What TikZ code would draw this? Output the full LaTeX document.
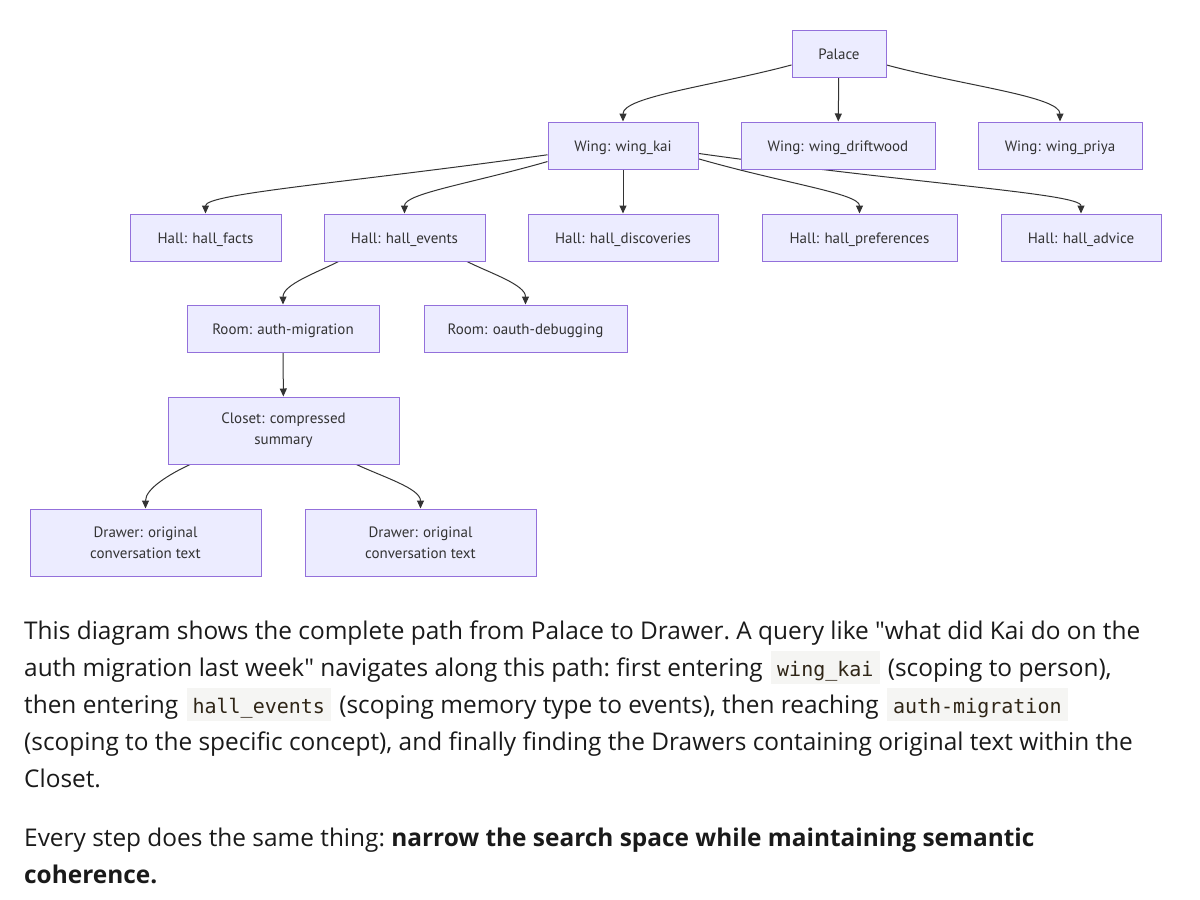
\documentclass[tikz,border=0pt]{standalone}
\usepackage{fontspec}
\setmainfont{Open Sans}[Ligatures=TeXOff]
\setmonofont{DejaVu Sans Mono}
\newfontfamily\boxfont{PT Sans}
\usetikzlibrary{arrows.meta,backgrounds}

\definecolor{boxfill}{HTML}{ECECFF}
\definecolor{boxline}{HTML}{9370DB}
\definecolor{linkcol}{HTML}{333333}
\definecolor{codebg}{HTML}{F5F5F3}
\definecolor{codefg}{HTML}{2F2516}
\definecolor{bodytext}{HTML}{1A1A1A}

% inline code chunk of the text below the diagram
\newcommand{\code}[1]{\hspace{2pt}{\setlength{\fboxsep}{0pt}\colorbox{codebg}{\hspace{6pt}\ttfamily\fontsize{20}{26}\selectfont\color{codefg}\rule[-7pt]{0pt}{33pt}#1\hspace{6pt}}}\hspace{2pt}}

\tikzset{
  boxbase/.style={draw=boxline, fill=boxfill, line width=1pt,
    inner sep=2pt, align=center, text=linkcol,
    font=\boxfont\fontsize{15}{21}\selectfont},
  box/.style={boxbase, minimum height=47pt, text height=13pt, text depth=2pt},
  tallbox/.style={boxbase, minimum height=67pt},
  link/.style={draw=linkcol, line width=1pt, -{Triangle[length=8pt,width=7pt]}},
}

\begin{document}
\begin{tikzpicture}[x=1pt, y=1pt]
    \useasboundingbox (0,0) rectangle (1200,-900);

    % palace and wings
    \node[box, minimum width=94pt] (palace) at (839,-54) {Palace};
    \node[box, minimum width=150pt] (kai) at (623,-145.5) {Wing: wing\_kai};
    \node[box, minimum width=194pt] (drift) at (838,-145.5) {Wing: wing\_driftwood};
    \node[box, minimum width=164pt] (priya) at (1060,-145.5) {Wing: wing\_priya};

    % halls
    \node[box, minimum width=151pt] (facts) at (205.5,-237.5) {Hall: hall\_facts};
    \node[box, minimum width=161pt] (events) at (404.5,-237.5) {Hall: hall\_events};
    \node[box, minimum width=190pt] (disc) at (623,-237.5) {Hall: hall\_discoveries};
    \node[box, minimum width=195pt] (pref) at (859.5,-237.5) {Hall: hall\_preferences};
    \node[box, minimum width=160pt] (advice) at (1081,-237.5) {Hall: hall\_advice};

    % rooms, closet, drawers
    \node[box, minimum width=192pt] (authm) at (283,-328.5) {Room: auth-migration};
    \node[box, minimum width=203pt] (oauth) at (525.5,-328.5) {Room: oauth-debugging};
    \node[tallbox, minimum width=231pt] (closet) at (283.5,-430.5) {Closet: compressed\\summary};
    \node[tallbox, minimum width=231pt] (drawerA) at (145.5,-542.5) {Drawer: original\\conversation text};
    \node[tallbox, minimum width=231pt] (drawerB) at (420.5,-542.5) {Drawer: original\\conversation text};

    \begin{scope}[on background layer]
    \fill[white] (0,0) rectangle (1200,-900);
    \draw[link] (palace.193) to[out=195, in=90, out distance=80pt, in distance=25pt] (kai.north);
    \draw[link] (palace) -- (drift);
    \draw[link] (palace.347) to[out=345, in=90, out distance=80pt, in distance=25pt] (priya.north);
    \draw[link] (kai.187) to[out=188, in=90, out distance=200pt, in distance=20pt] (facts.north);
    \draw[link] (kai.192) to[out=196, in=90, out distance=80pt, in distance=20pt] (events.north);
    \draw[link] (kai) -- (disc);
    \draw[link] (kai.350) to[out=344, in=90, out distance=90pt, in distance=20pt] (pref.north);
    \draw[link] (kai.354) to[out=352, in=90, out distance=220pt, in distance=20pt] (advice.north);
    \draw[link] (events.200) to[out=207, in=90, out distance=25pt, in distance=20pt] (authm.north);
    \draw[link] (events.339) to[out=333, in=90, out distance=25pt, in distance=20pt] (oauth.north);
    \draw[link] (authm) -- (closet);
    \draw[link] (closet.200) to[out=205, in=90, out distance=22pt, in distance=20pt] (drawerA.north);
    \draw[link] (closet.335) to[out=335, in=90, out distance=30pt, in distance=20pt] (drawerB.north);
    \end{scope}

    % text under the diagram
    \node[anchor=north west, align=left, inner sep=0pt, text=bodytext,
      font=\fontsize{24.4}{37}\selectfont\frenchspacing] (para) at (24,-621) {%
      This diagram shows the complete path from Palace to Drawer. A query like "what did Kai do on the\\
      auth migration last week" navigates along this path: first entering \code{wing\_kai} (scoping to person),\\
      then entering \code{hall\_events} (scoping memory type to events), then reaching \code{auth-migration}\\
      (scoping to the specific concept), and finally finding the Drawers containing original text within the\\
      Closet.\\[22pt]
      Every step does the same thing: \textbf{narrow the search space while maintaining semantic}\\
      \textbf{coherence.}};
\end{tikzpicture}
\end{document}
